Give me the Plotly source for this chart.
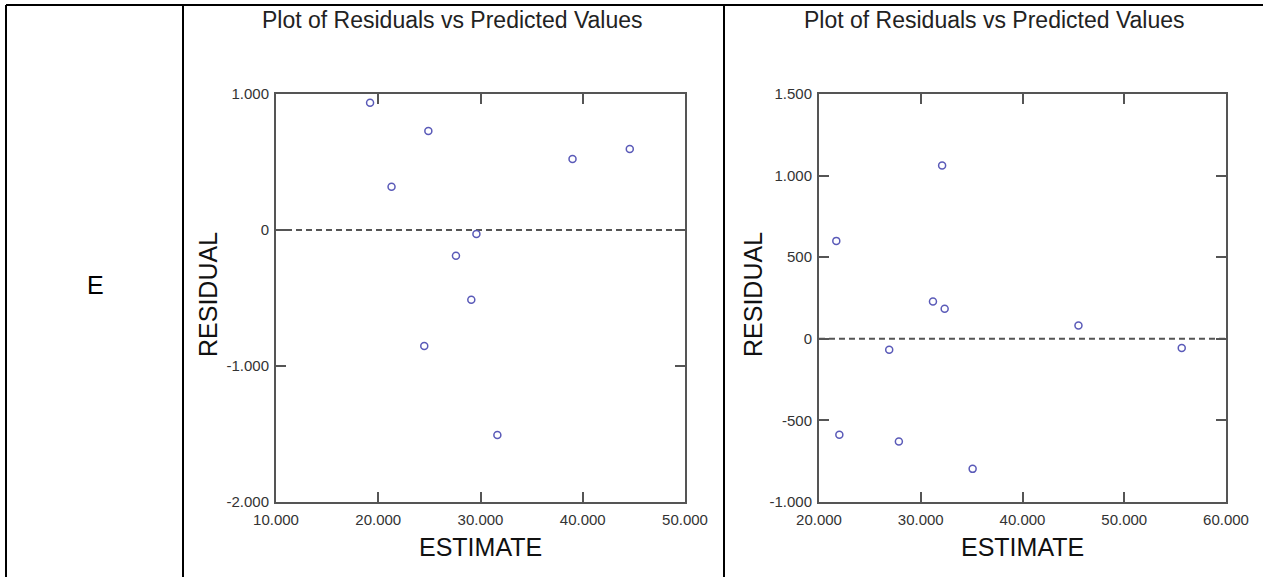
import plotly.graph_objects as go

W, H = 1263, 577

# ---- data ----
left_estimate = [19200, 21300, 24900, 24500, 27600, 29100, 29600, 31650, 39000, 44600]
left_residual = [936, 318, 728, -853, -189, -513, -29, -1507, 522, 596]

right_estimate = [21700, 22000, 26900, 27850, 31200, 32100, 32350, 35100, 45500, 55650]
right_residual = [600, -588, -67, -629, 229, 1062, 184, -797, 82, -57]

left_x_ticks = [10000, 20000, 30000, 40000, 50000]
left_x_labels = ["10.000", "20.000", "30.000", "40.000", "50.000"]
left_y_ticks = [-2000, -1000, 0, 1000]
left_y_labels = ["-2.000", "-1.000", "0", "1.000"]

right_x_ticks = [20000, 30000, 40000, 50000, 60000]
right_x_labels = ["20.000", "30.000", "40.000", "50.000", "60.000"]
right_y_ticks = [-1000, -500, 0, 500, 1000, 1500]
right_y_labels = ["-1.000", "-500", "0", "500", "1.000", "1.500"]

panel_title = "Plot of Residuals vs Predicted Values"
x_title = "ESTIMATE"
y_title = "RESIDUAL"
row_label = "E"

# ---- style ----
AX = "#555555"
MK = "#5a5ab8"
FONT = "Arial, Liberation Sans, sans-serif"


def fx(p):
    return p / W


def fy(p):
    return 1 - p / H


fig = go.Figure()

mk = dict(symbol="circle-open", size=7, color=MK, line=dict(width=1.5, color=MK))
fig.add_trace(go.Scatter(x=left_estimate, y=left_residual, mode="markers",
                         xaxis="x", yaxis="y", marker=mk, showlegend=False, hoverinfo="x+y"))
fig.add_trace(go.Scatter(x=right_estimate, y=right_residual, mode="markers",
                         xaxis="x2", yaxis="y2", marker=mk, showlegend=False, hoverinfo="x+y"))

ydom = [fy(502), fy(94)]

common = dict(showline=True, linecolor=AX, linewidth=2, mirror="ticks",
              ticks="inside", ticklen=10, tickwidth=2, tickcolor=AX,
              showgrid=False, zeroline=False, tickmode="array", automargin=False,
              tickfont=dict(family=FONT, size=15, color="#333333"))

fig.update_layout(
    width=W, height=H, autosize=False,
    margin=dict(l=0, r=0, t=0, b=0, pad=0),
    paper_bgcolor="white", plot_bgcolor="white",
    xaxis=dict(domain=[fx(276), fx(685)], range=[left_x_ticks[0], left_x_ticks[-1]],
               tickvals=left_x_ticks, ticktext=left_x_labels, anchor="y",
               ticklabelstandoff=3, **common),
    yaxis=dict(domain=ydom, range=[left_y_ticks[0], left_y_ticks[-1]],
               tickvals=left_y_ticks, ticktext=left_y_labels, anchor="x",
               ticklabelstandoff=2, **common),
    xaxis2=dict(domain=[fx(819), fx(1226)], range=[right_x_ticks[0], right_x_ticks[-1]],
                tickvals=right_x_ticks, ticktext=right_x_labels, anchor="y2",
                ticklabelstandoff=3, **common),
    yaxis2=dict(domain=ydom, range=[right_y_ticks[0], right_y_ticks[-1]],
                tickvals=right_y_ticks, ticktext=right_y_labels, anchor="x2",
                ticklabelstandoff=2, **common),
)

# dashed zero reference lines
for xr, yr in (("x", "y"), ("x2", "y2")):
    fig.add_shape(type="line", xref=f"{xr} domain", yref=yr, x0=0, x1=1, y0=0, y1=0,
                  line=dict(color=AX, width=2, dash="6px,4px"), layer="below")

# table borders
border = dict(color="black", width=2)
fig.add_shape(type="line", xref="paper", yref="paper", x0=fx(6), x1=1, y0=fy(5), y1=fy(5), line=border)
for bx in (6, 183, 724):
    fig.add_shape(type="line", xref="paper", yref="paper", x0=fx(bx), x1=fx(bx),
                  y0=fy(5), y1=0, line=border)

ann = []
for cx in (453, 994):
    ann.append(dict(text=panel_title, x=fx(cx), y=fy(20), xref="paper", yref="paper",
                    showarrow=False, xanchor="center", yanchor="middle",
                    font=dict(family=FONT, size=23, color="#222222")))
for cx in (481, 1022):
    ann.append(dict(text=x_title, x=fx(cx), y=fy(547), xref="paper", yref="paper",
                    showarrow=False, xanchor="center", yanchor="middle",
                    font=dict(family=FONT, size=25, color="#111111")))
for cx in (208, 753):
    ann.append(dict(text=y_title, x=fx(cx), y=fy(295), xref="paper", yref="paper",
                    showarrow=False, xanchor="center", yanchor="middle", textangle=-90,
                    font=dict(family=FONT, size=25, color="#111111")))
ann.append(dict(text=row_label, x=fx(95), y=fy(285), xref="paper", yref="paper",
                showarrow=False, xanchor="center", yanchor="middle",
                font=dict(family=FONT, size=25, color="black")))
fig.update_layout(annotations=ann)

fig.write_html("out.html", include_plotlyjs=True)
